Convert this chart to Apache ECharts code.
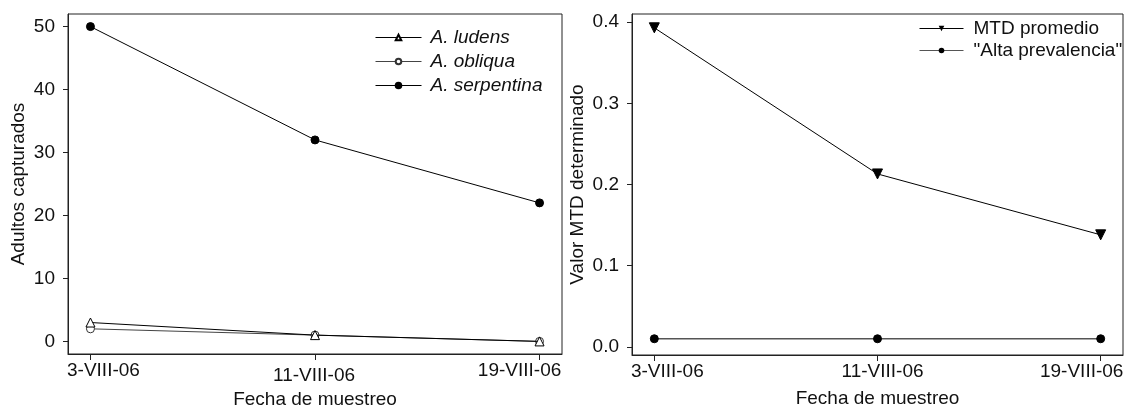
<!DOCTYPE html>
<html><head><meta charset="utf-8">
<script src="https://cdn.jsdelivr.net/npm/echarts@6/dist/echarts.min.js"></script>
<style>html,body{margin:0;padding:0;background:#fff}#c{width:1127px;height:407px}</style>
</head><body><div id="c"></div>
<script>
const dates = ['3-VIII-06', '11-VIII-06', '19-VIII-06'];
const ludens = [3, 1, 0];
const obliqua = [2, 1, 0];
const serpentina = [50, 32, 22];
const mtdPromedio = [0.393, 0.213, 0.138];
const altaPrevalencia = [0.01, 0.01, 0.01];
const leftTicks = [0, 10, 20, 30, 40, 50];
const rightTicks = [0, 0.1, 0.2, 0.3, 0.4];
const idx = dates.map((d, i) => i);

const F = 'Liberation Sans, Arial, sans-serif';
const AX = '#222';
const TXT = '#111';
const pts = arr => arr.map((v, i) => [i, v]);

function xAxisCfg(grid, rich) {
  return {
    type: 'value', gridIndex: grid, min: -0.1, max: 2.1,
    name: 'Fecha de muestreo', nameLocation: 'middle', nameGap: 34,
    nameTextStyle: {fontFamily: F, fontSize: 19, color: TXT},
    axisLine: {show: true, onZero: false, lineStyle: {color: AX}},
    axisTick: {show: true, customValues: idx, length: 6, lineStyle: {color: AX}},
    splitLine: {show: false},
    axisLabel: {
      customValues: idx, margin: 7, fontFamily: F, fontSize: 19, color: TXT,
      formatter: v => { const i = Math.round(v); return '{' + 'abc'[i] + '|' + dates[i] + '}'; },
      rich: rich
    }
  };
}
function yAxisCfg(grid, name, min, max, ticks, fmt, gap) {
  return {
    type: 'value', gridIndex: grid, min: min, max: max,
    name: name, nameLocation: 'middle', nameGap: gap,
    nameTextStyle: {fontFamily: F, fontSize: 19, color: TXT},
    axisLine: {show: true, onZero: false, lineStyle: {color: AX}},
    axisTick: {show: true, customValues: ticks, length: 5, lineStyle: {color: AX}},
    splitLine: {show: false},
    axisLabel: {customValues: ticks, margin: 13, fontFamily: F, fontSize: 19, color: TXT, formatter: fmt}
  };
}
const rs = (p) => ({fontFamily: F, fontSize: 19, color: TXT, padding: p});

const option = {
  animation: false,
  backgroundColor: '#fff',
  grid: [
    {left: 68, right: 565, top: 14, bottom: 53, show: true, borderColor: AX, borderWidth: 1, outerBoundsMode: 'none', containLabel: false},
    {left: 632, right: 4, top: 14, bottom: 52, show: true, borderColor: AX, borderWidth: 1, outerBoundsMode: 'none', containLabel: false}
  ],
  xAxis: [
    xAxisCfg(0, {a: rs([0, 0, 0, 26]), b: rs([5, 2, 0, 0]), c: rs([0, 40, 0, 0])}),
    xAxisCfg(1, {a: rs([0, 0, 0, 26]), b: rs([0, 0, 0, 10]), c: rs([0, 38, 0, 0])})
  ],
  yAxis: [
    yAxisCfg(0, 'Adultos capturados', -2, 52, leftTicks, v => String(v), 40),
    yAxisCfg(1, 'Valor MTD determinado', -0.01, 0.41, rightTicks, v => v.toFixed(1), 45)
  ],
  legend: [
    {
      data: ['A. ludens', 'A. obliqua', 'A. serpentina'],
      orient: 'vertical', left: 370, top: 23, itemWidth: 46, itemHeight: 7, itemGap: 5,
      lineStyle: {width: 1},
      textStyle: {fontFamily: F, fontSize: 19, fontStyle: 'italic', color: TXT, padding: [0, 0, 0, 4]}
    },
    {
      data: ['MTD promedio', '"Alta prevalencia"'],
      orient: 'vertical', left: 914, top: 14, itemWidth: 44, itemHeight: 7, itemGap: 3,
      lineStyle: {width: 1},
      textStyle: {fontFamily: F, fontSize: 19, color: TXT, padding: [0, 0, 0, 5]}
    }
  ],
  series: [
    {name: 'A. ludens', type: 'line', xAxisIndex: 0, yAxisIndex: 0, data: pts(ludens),
     symbol: 'triangle', symbolSize: 9, itemStyle: {color: '#fff', borderColor: '#000', borderWidth: 1},
     lineStyle: {color: '#000', width: 1}, z: 3},
    {name: 'A. obliqua', type: 'line', xAxisIndex: 0, yAxisIndex: 0, data: pts(obliqua),
     symbol: 'circle', symbolSize: 8, itemStyle: {color: '#fff', borderColor: '#333', borderWidth: 1},
     lineStyle: {color: '#444', width: 1}, z: 2},
    {name: 'A. serpentina', type: 'line', xAxisIndex: 0, yAxisIndex: 0, data: pts(serpentina),
     symbol: 'circle', symbolSize: 8, itemStyle: {color: '#000', borderColor: '#000', borderWidth: 1},
     lineStyle: {color: '#000', width: 1}},
    {name: 'MTD promedio', type: 'line', xAxisIndex: 1, yAxisIndex: 1, data: pts(mtdPromedio),
     symbol: 'triangle', symbolRotate: 180, symbolSize: 10, itemStyle: {color: '#000', borderColor: '#000'},
     lineStyle: {color: '#000', width: 1}},
    {name: '"Alta prevalencia"', type: 'line', xAxisIndex: 1, yAxisIndex: 1, data: pts(altaPrevalencia),
     symbol: 'circle', symbolSize: 8, itemStyle: {color: '#000', borderColor: '#000'},
     lineStyle: {color: '#555', width: 1.3}}
  ]
};
const chart = echarts.init(document.getElementById('c'));
chart.setOption(option);
</script></body></html>
